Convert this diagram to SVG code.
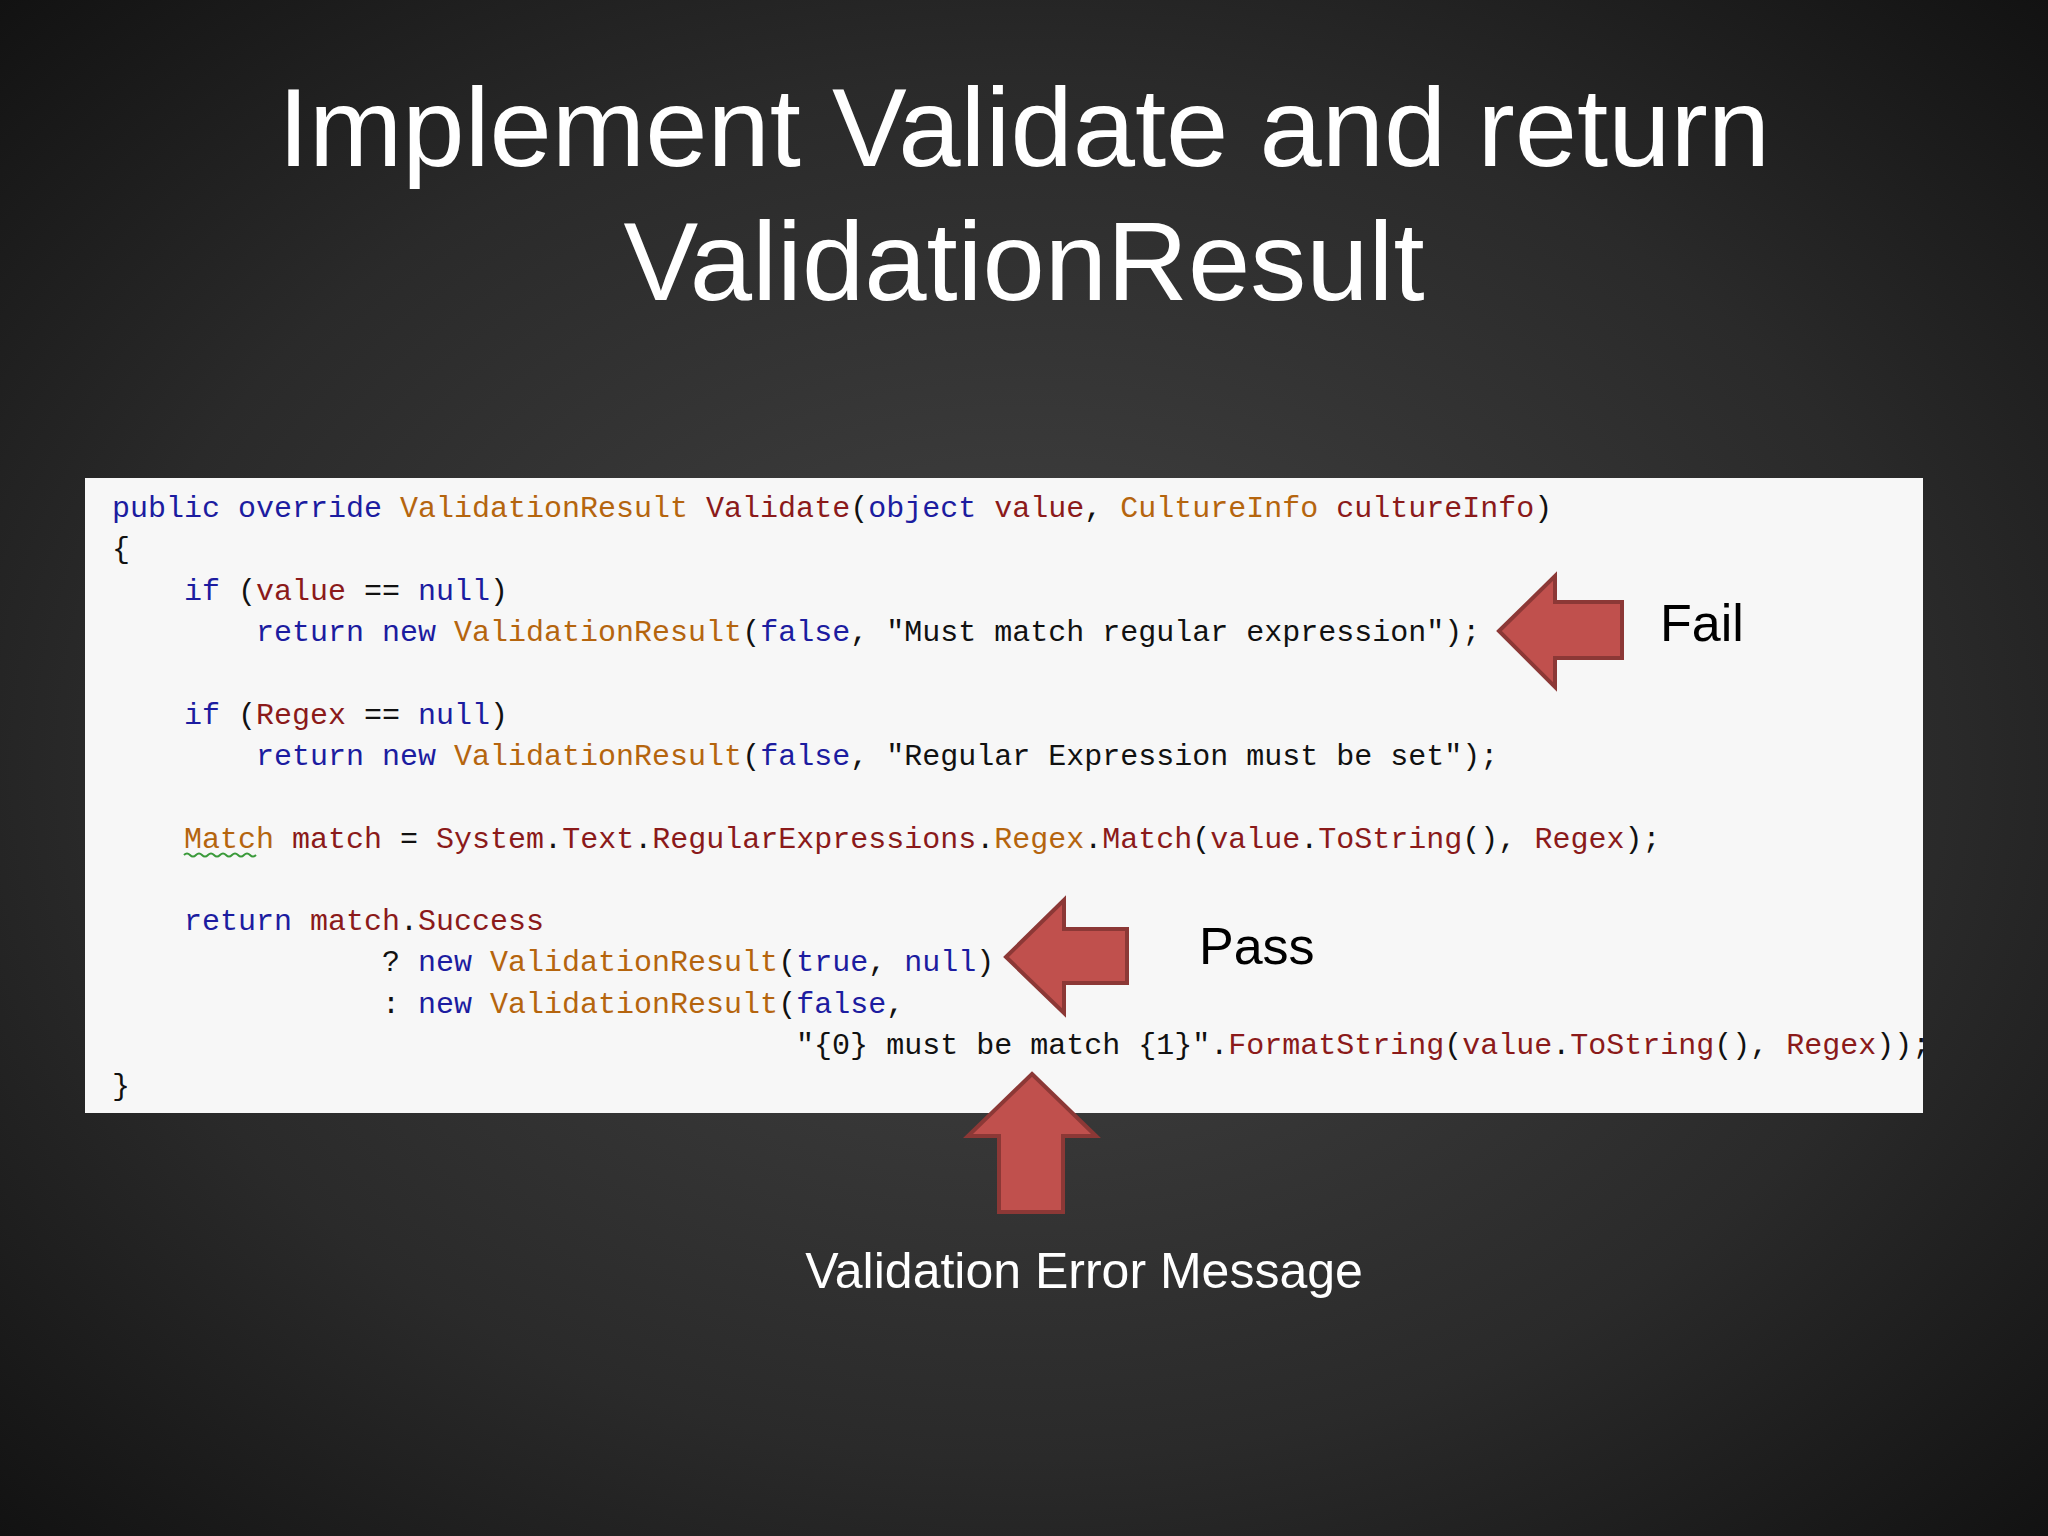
<svg xmlns="http://www.w3.org/2000/svg" width="2048" height="1536" viewBox="0 0 2048 1536">
<defs>
<radialGradient id="bg" cx="50%" cy="50%" r="75%">
<stop offset="0" stop-color="#454545"/>
<stop offset="0.6" stop-color="#2a2a2a"/>
<stop offset="1" stop-color="#0e0e0e"/>
</radialGradient>
<style>
.title{font-family:"Liberation Sans",Arial,sans-serif;font-size:112px;fill:#fff;text-anchor:middle}
.lbl{font-family:"Liberation Sans",Arial,sans-serif;font-size:52px}
.code{font-family:"Liberation Mono","DejaVu Sans Mono",monospace;font-size:30px;fill:#111}
.k{fill:#1c1ca0}.t{fill:#b5650e}.i{fill:#8b1a1a}
.arrow{fill:#c0504d;stroke:#8c3836;stroke-width:4;stroke-linejoin:miter}
</style>
</defs>
<rect width="2048" height="1536" fill="url(#bg)"/>
<g id="title">
<text class="title" x="1024" y="166">Implement Validate and return</text>
<text class="title" x="1024" y="300">ValidationResult</text>
</g>
<g id="code">
<rect x="85" y="478" width="1838" height="635" fill="#f7f7f7"/>
<text class="code" xml:space="preserve" x="112" y="517"><tspan class="k">public override </tspan><tspan class="t">ValidationResult </tspan><tspan class="i">Validate</tspan>(<tspan class="k">object </tspan><tspan class="i">value</tspan>, <tspan class="t">CultureInfo </tspan><tspan class="i">cultureInfo</tspan>)</text>
<text class="code" xml:space="preserve" x="112" y="558">{</text>
<text class="code" xml:space="preserve" x="112" y="600">    <tspan class="k">if</tspan> (<tspan class="i">value</tspan> == <tspan class="k">null</tspan>)</text>
<text class="code" xml:space="preserve" x="112" y="641">        <tspan class="k">return new </tspan><tspan class="t">ValidationResult</tspan>(<tspan class="k">false</tspan>, "Must match regular expression");</text>
<text class="code" xml:space="preserve" x="112" y="724">    <tspan class="k">if</tspan> (<tspan class="i">Regex</tspan> == <tspan class="k">null</tspan>)</text>
<text class="code" xml:space="preserve" x="112" y="765">        <tspan class="k">return new </tspan><tspan class="t">ValidationResult</tspan>(<tspan class="k">false</tspan>, "Regular Expression must be set");</text>
<text class="code" xml:space="preserve" x="112" y="848">    <tspan class="t">Match</tspan> <tspan class="i">match</tspan> = <tspan class="i">System</tspan>.<tspan class="i">Text</tspan>.<tspan class="i">RegularExpressions</tspan>.<tspan class="t">Regex</tspan>.<tspan class="i">Match</tspan>(<tspan class="i">value</tspan>.<tspan class="i">ToString</tspan>(), <tspan class="i">Regex</tspan>);</text>
<path d="M184 855 q3 -3 6 0 t6 0 t6 0 t6 0 t6 0 t6 0 t6 0 t6 0 t6 0 t6 0 t6 0 t6 0" fill="none" stroke="#3a9a3a" stroke-width="2"/>
<text class="code" xml:space="preserve" x="112" y="930">    <tspan class="k">return </tspan><tspan class="i">match</tspan>.<tspan class="i">Success</tspan></text>
<text class="code" xml:space="preserve" x="112" y="971">               ? <tspan class="k">new </tspan><tspan class="t">ValidationResult</tspan>(<tspan class="k">true</tspan>, <tspan class="k">null</tspan>)</text>
<text class="code" xml:space="preserve" x="112" y="1013">               : <tspan class="k">new </tspan><tspan class="t">ValidationResult</tspan>(<tspan class="k">false</tspan>,</text>
<text class="code" xml:space="preserve" x="112" y="1054">                                      "{0} must be match {1}".<tspan class="i">FormatString</tspan>(<tspan class="i">value</tspan>.<tspan class="i">ToString</tspan>(), <tspan class="i">Regex</tspan>));</text>
<text class="code" xml:space="preserve" x="112" y="1095">}</text>
</g>
<g id="connectors">
<polygon class="arrow" points="1499,631 1555,576 1555,602 1622,602 1622,658 1555,658 1555,687"/>
<polygon class="arrow" points="1006,957 1064,900 1064,929 1127,929 1127,983 1064,983 1064,1013"/>
<polygon class="arrow" points="1032,1074 1096,1136 1063,1136 1063,1212 999,1212 999,1136 968,1136"/>
</g>
<g id="fail"><text class="lbl" x="1660" y="641" fill="#000">Fail</text></g>
<g id="pass"><text class="lbl" x="1199" y="964" fill="#000">Pass</text></g>
<g id="msg"><text class="lbl" x="1084" y="1288" fill="#fff" font-size="50" text-anchor="middle" style="font-size:50px">Validation Error Message</text></g>
</svg>
